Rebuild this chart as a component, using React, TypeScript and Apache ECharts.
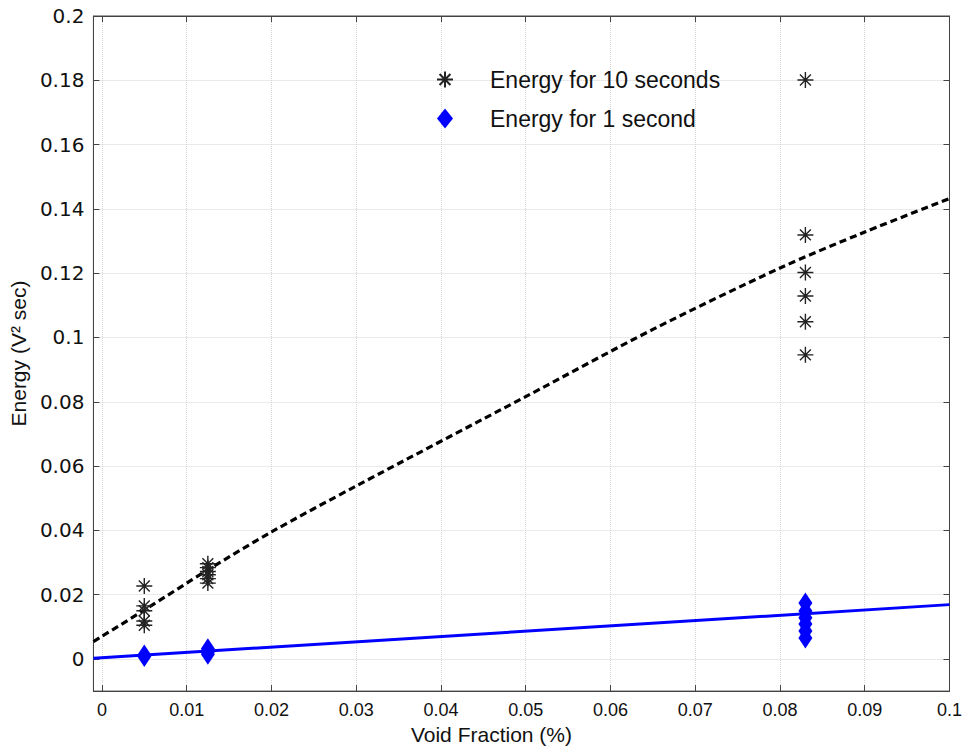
import React, { useEffect, useRef } from "react";
import * as echarts from "echarts";

// Tick labels
const xTicks = [0, 0.01, 0.02, 0.03, 0.04, 0.05, 0.06, 0.07, 0.08, 0.09, 0.1];
const yTicks = [0, 0.02, 0.04, 0.06, 0.08, 0.1, 0.12, 0.14, 0.16, 0.18, 0.2];

// Void fraction positions of measurement clusters
const voidA = 0.005;
const voidB = 0.0125;
const voidC = 0.083;

// Energy for 10 seconds (asterisks)
const energy10A = [0.0227, 0.0165, 0.015, 0.0118, 0.0105];
const energy10B = [0.0296, 0.0284, 0.0272, 0.0262, 0.025, 0.0236];
const energy10C = [0.1801, 0.1319, 0.1202, 0.1129, 0.1049, 0.0946];

// Energy for 1 second (diamonds)
const energy1A = [0.0008, 0.0012];
const energy1B = [0.0015, 0.0022, 0.0032];
const energy1C = [0.0174, 0.0149, 0.0128, 0.0109, 0.0087, 0.0065];

// Fitted curves
const fit10X = [-0.001, 0.005, 0.0125, 0.02, 0.03, 0.05, 0.065, 0.08, 0.09, 0.1];
const fit10Y = [0.0054, 0.0152, 0.0277, 0.0395, 0.0538, 0.0816, 0.1025, 0.1216, 0.1328, 0.1432];
const fit1X = [-0.001, 0.1];
const fit1Y = [0.0002, 0.0169];

const name10 = "Energy for 10 seconds";
const name1 = "Energy for 1 second";

const starPath =
  "path://M5,0L5,10M0,5L10,5M1.6,1.6L8.4,8.4M1.6,8.4L8.4,1.6";

function pairs(x: number, ys: number[]) {
  return ys.map((y) => [x, y]);
}

export default function App() {
  const ref = useRef<HTMLDivElement>(null);
  useEffect(() => {
    if (!ref.current) return;
    const chart = echarts.init(ref.current, null, { renderer: "svg" });
    const gridLine = { show: true, lineStyle: { color: "#d4d4d4", type: "dotted" as const, width: 1 } };
    chart.setOption({
      animation: false,
      backgroundColor: "#ffffff",
      grid: {
        left: 91,
        right: 15,
        top: 16,
        bottom: 58,
        show: true,
        borderColor: "#444",
        borderWidth: 1,
      },
      legend: {
        data: [name10, name1],
        orient: "vertical",
        left: 431,
        top: 63,
        itemWidth: 16,
        itemHeight: 20,
        itemGap: 16,
        textStyle: {
          fontFamily: "Liberation Sans, Arial, sans-serif",
          fontSize: 23,
          color: "#111",
          padding: [0, 0, 0, 32],
        },
      },
      xAxis: [
        {
          type: "value",
          min: -0.001,
          max: 0.1,
          name: "Void Fraction (%)",
          nameLocation: "middle",
          nameGap: 32,
          nameTextStyle: {
            fontFamily: "Liberation Sans, Arial, sans-serif",
            fontSize: 21,
            color: "#111",
            padding: [0, 60, 0, 0],
          },
          axisLine: { show: true, onZero: false, lineStyle: { color: "#444", width: 1 } },
          axisTick: { show: true, inside: true, length: 6, customValues: xTicks, lineStyle: { color: "#444" } },
          axisLabel: {
            customValues: xTicks,
            margin: 10,
            fontFamily: "Liberation Sans, Arial, sans-serif",
            fontSize: 18,
            color: "#111",
          },
          splitLine: gridLine,
        },
        {
          type: "value",
          position: "top",
          min: -0.001,
          max: 0.1,
          axisLine: { show: true, onZero: false, lineStyle: { color: "#444", width: 1 } },
          axisTick: { show: true, inside: true, length: 6, customValues: xTicks, lineStyle: { color: "#444" } },
          axisLabel: { show: false },
          splitLine: { show: false },
        },
      ],
      yAxis: [
        {
          type: "value",
          min: -0.01,
          max: 0.2,
          name: "Energy (V² sec)",
          nameLocation: "middle",
          nameGap: 56,
          nameTextStyle: {
            fontFamily: "Liberation Sans, Arial, sans-serif",
            fontSize: 21,
            color: "#111",
          },
          axisLine: { show: true, onZero: false, lineStyle: { color: "#444", width: 1 } },
          axisTick: { show: true, inside: true, length: 6, customValues: yTicks, lineStyle: { color: "#444" } },
          axisLabel: {
            customValues: yTicks,
            margin: 9,
            fontFamily: "DejaVu Sans, sans-serif",
            fontSize: 20,
            color: "#111",
          },
          splitLine: gridLine,
        },
        {
          type: "value",
          position: "right",
          min: -0.01,
          max: 0.2,
          axisLine: { show: true, onZero: false, lineStyle: { color: "#444", width: 1 } },
          axisTick: { show: true, inside: true, length: 6, customValues: yTicks, lineStyle: { color: "#444" } },
          axisLabel: { show: false },
          splitLine: { show: false },
        },
      ],
      series: [
        {
          name: "fit10",
          type: "line",
          data: fit10X.map((x, i) => [x, fit10Y[i]]),
          smooth: 0.3,
          showSymbol: false,
          symbol: "none",
          lineStyle: { color: "#000", width: 3.2, type: [7, 4] },
          z: 3,
        },
        {
          name: "fit1",
          type: "line",
          data: fit1X.map((x, i) => [x, fit1Y[i]]),
          showSymbol: false,
          symbol: "none",
          lineStyle: { color: "#0000ff", width: 3 },
          z: 3,
        },
        {
          name: name10,
          type: "scatter",
          symbol: starPath,
          symbolSize: 16,
          symbolKeepAspect: true,
          itemStyle: { color: "#222", borderColor: "#222", borderWidth: 1.4, opacity: 1 },
          data: [...pairs(voidA, energy10A), ...pairs(voidB, energy10B), ...pairs(voidC, energy10C)],
          z: 4,
        },
        {
          name: name1,
          type: "scatter",
          symbol: "diamond",
          symbolSize: [14, 21],
          itemStyle: { color: "#0000ff", opacity: 1 },
          data: [...pairs(voidA, energy1A), ...pairs(voidB, energy1B), ...pairs(voidC, energy1C)],
          z: 4,
        },
      ],
    });
    return () => chart.dispose();
  }, []);
  return <div ref={ref} style={{ width: 965, height: 750, position: "absolute", left: 0, top: 0 }} />;
}
